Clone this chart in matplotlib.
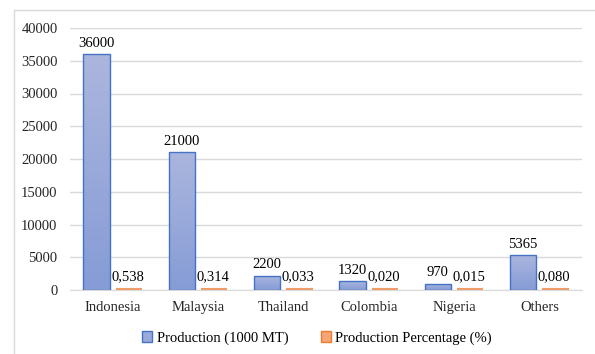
import numpy as np
import matplotlib.pyplot as plt
from matplotlib.patches import Rectangle, Patch

countries = ['Indonesia', 'Malaysia', 'Thailand', 'Colombia', 'Nigeria', 'Others']
production = [36000, 21000, 2200, 1320, 970, 5365]
percentage = [0.538, 0.314, 0.033, 0.020, 0.015, 0.080]

plt.rcParams['font.family'] = ['Liberation Serif', 'DejaVu Serif']
plt.rcParams['font.size'] = 10.5

fig = plt.figure(figsize=(5.95, 3.54), dpi=100)
ax = fig.add_axes([70 / 595, 64 / 354, 512 / 595, 262 / 354])

# light frame around the whole chart
fig.patches.append(Rectangle((14 / 595, -0.1), 1.0, (354 - 10) / 354 + 0.1,
                             transform=fig.transFigure, fill=False,
                             edgecolor='#d9d9d9', linewidth=1))

x = np.arange(len(countries))
w = 0.31
off = 0.19
top_c = np.array([0xab, 0xb6, 0xde]) / 255
bot_c = np.array([0x86, 0x9c, 0xd6]) / 255
grad = np.linspace(0, 1, 64)[:, None, None]
grad_img = top_c * (1 - grad) + bot_c * grad  # row 0 = top

bars = ax.bar(x - off, production, w, facecolor='none', edgecolor='#4472c4',
              linewidth=1.0, zorder=3)
for b in bars:
    x0, h = b.get_x(), b.get_height()
    im = ax.imshow(grad_img, extent=(x0, x0 + b.get_width(), 0, h),
                   aspect='auto', origin='upper', zorder=2)
    im.set_clip_path(b)

# percentages share the axis, so they only show up as a thin strip
pbars = ax.bar(x + off, percentage, w, color='#f0a06c', edgecolor='#f09c68',
               linewidth=3.0, zorder=3)

for xi, v in zip(x, production):
    ax.annotate(str(v), (xi - off, v), xytext=(0, 3), textcoords='offset points',
                ha='center', va='bottom')
for xi, v in zip(x, percentage):
    ax.annotate(f'{v:.3f}'.replace('.', ','), (xi + off, v), xytext=(-1, 5),
                textcoords='offset points', ha='center', va='bottom')

ax.set_xlim(-0.5, len(countries) - 0.5)
ax.set_ylim(0, 40000)
ax.set_yticks(range(0, 40001, 5000))
ax.set_xticks(x)
ax.set_xticklabels(countries)
ax.tick_params(axis='both', length=0, colors='#262626')
ax.tick_params(axis='x', pad=8)
ax.tick_params(axis='y', pad=9)
ax.grid(axis='y', color='#d9d9d9', linewidth=1, zorder=0)
ax.set_axisbelow(True)
for s in ['top', 'right', 'left']:
    ax.spines[s].set_visible(False)
ax.spines['bottom'].set_color('#d9d9d9')

handles = [Patch(facecolor='#98aada', edgecolor='#4472c4', label='Production (1000 MT)'),
           Patch(facecolor='#f4a676', edgecolor='#ed7d31', label='Production Percentage (%)')]
fig.legend(handles=handles, loc='center', bbox_to_anchor=(317 / 595, 16 / 354),
           ncol=2, frameon=False, handlelength=0.7, handleheight=0.7,
           handletextpad=0.3, columnspacing=2.2)

fig.savefig('out.png', dpi=100)
